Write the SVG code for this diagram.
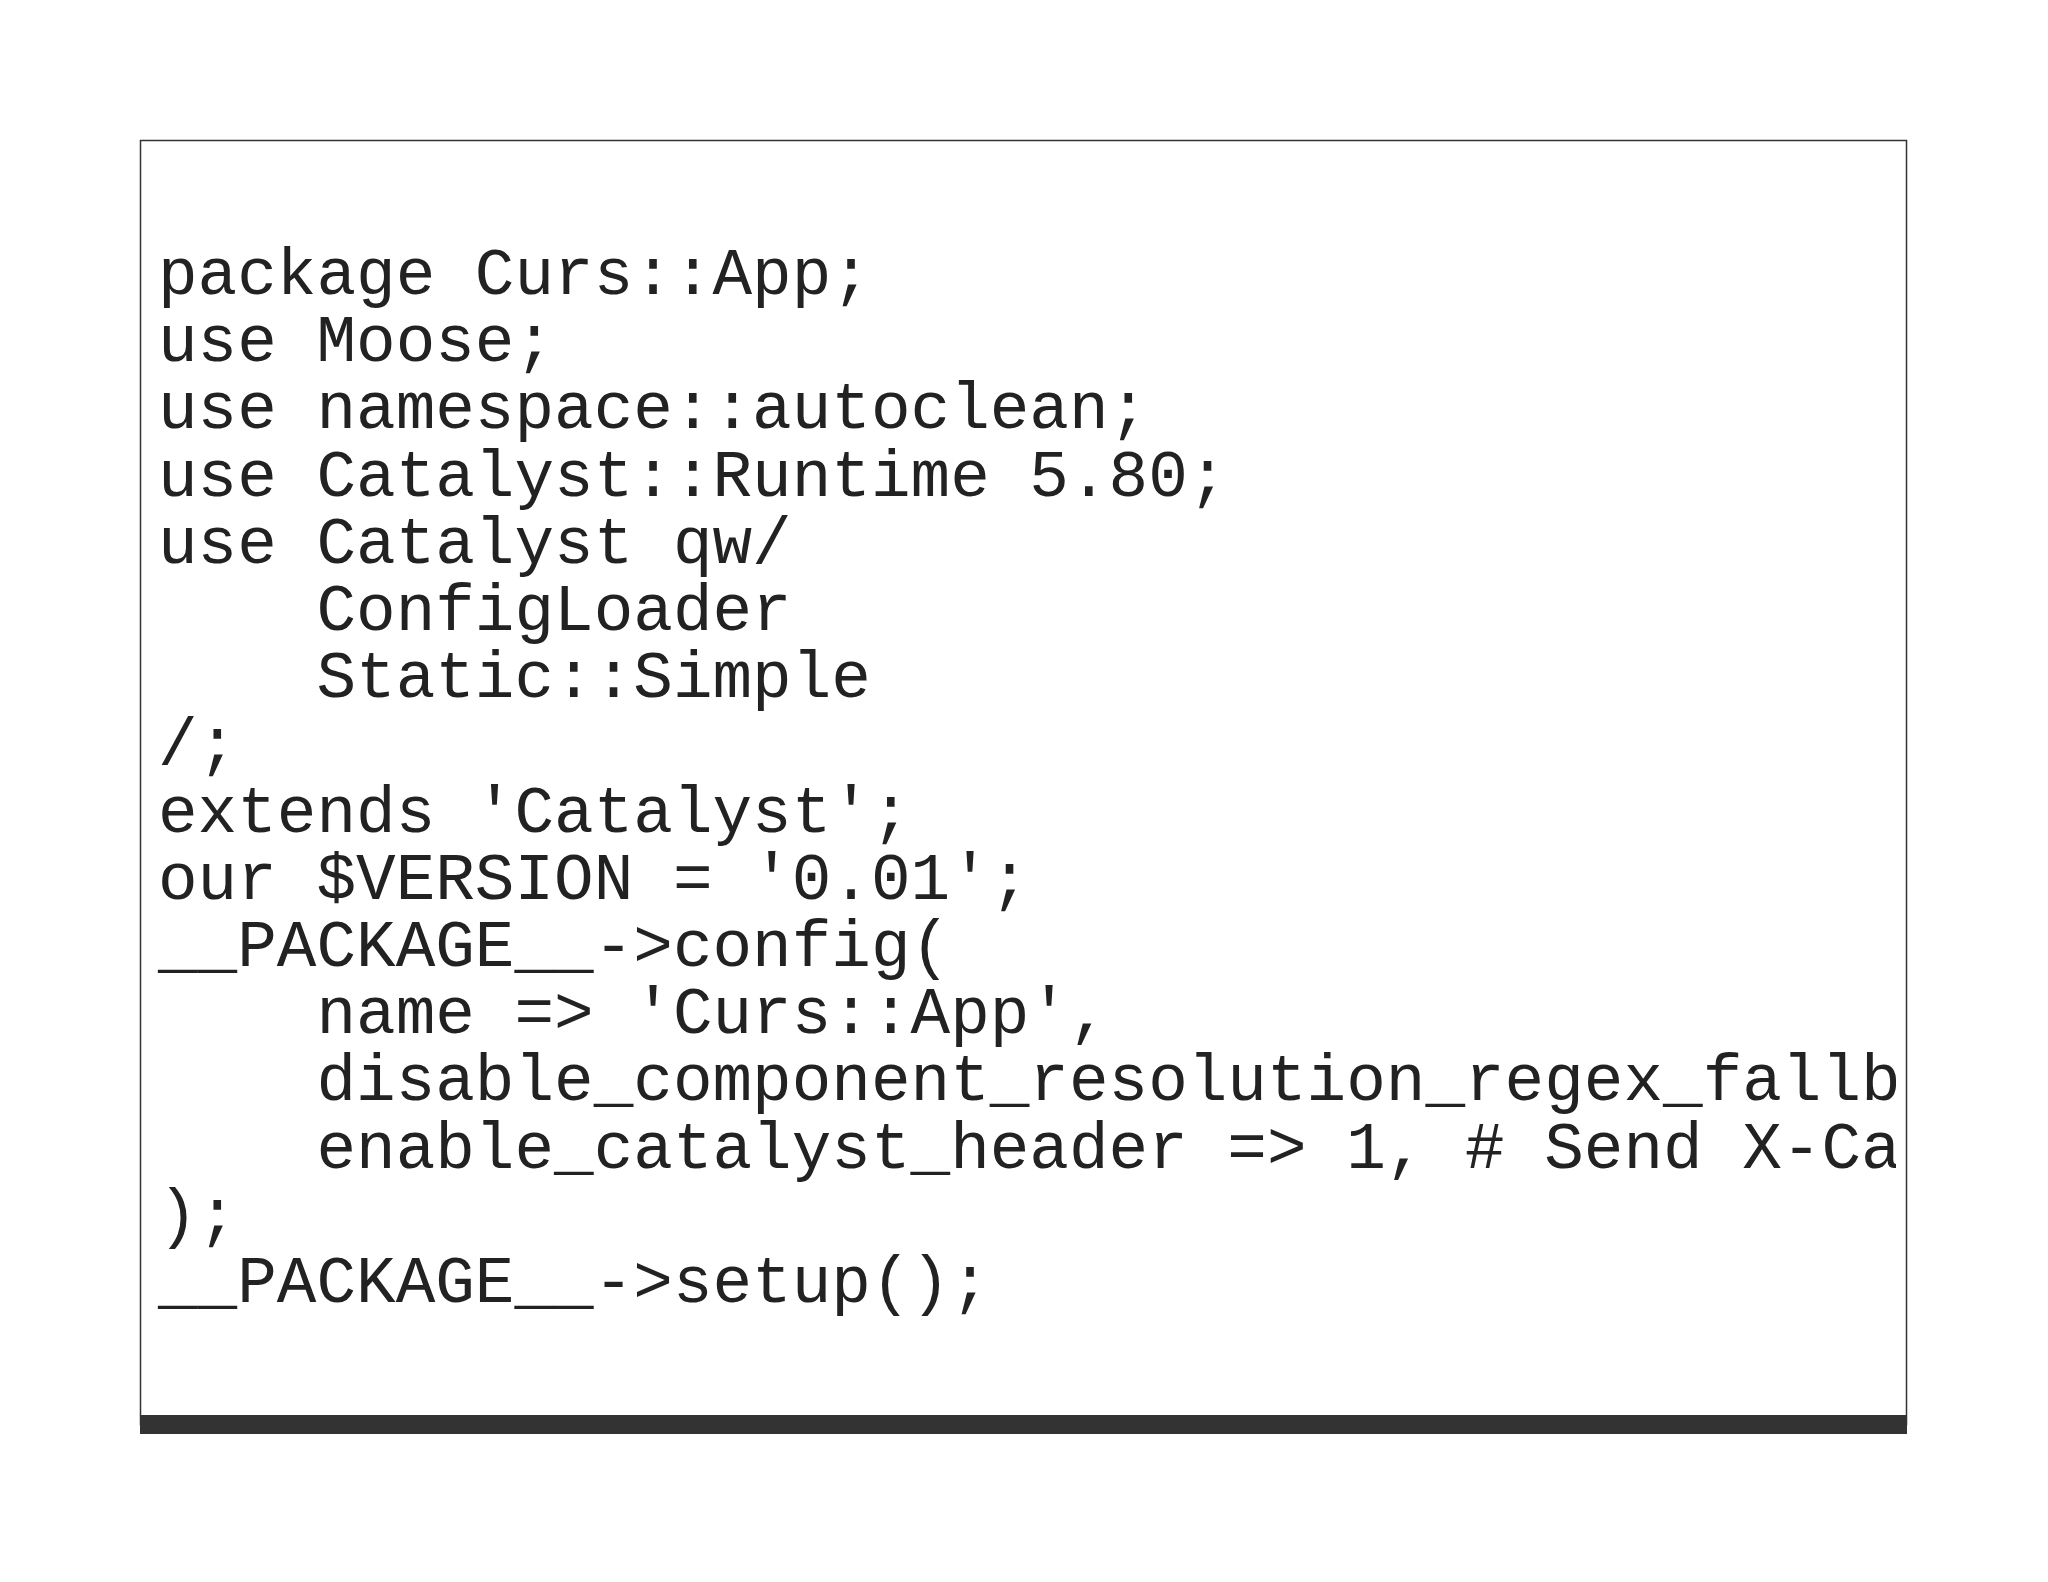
<svg xmlns="http://www.w3.org/2000/svg" width="2048" height="1582" viewBox="0 0 2048 1582">
<defs><clipPath id="c"><rect x="141" y="141" width="1755" height="1275"/></clipPath>
<style>.t{font-family:"Liberation Mono","Courier New",monospace;font-size:66px;fill:#222;white-space:pre}</style></defs>
<rect width="2048" height="1582" fill="#fff"/>
<g id="box"><rect x="140.5" y="140.5" width="1766" height="1284" fill="#fff" stroke="#333" stroke-width="1.5"/>
<rect x="140" y="1415" width="1767" height="19" fill="#333"/></g>
<g id="code" clip-path="url(#c)">
<text class="t" x="158" y="294">package Curs::App;</text>
<text class="t" x="158" y="361.2">use Moose;</text>
<text class="t" x="158" y="428.4">use namespace::autoclean;</text>
<text class="t" x="158" y="495.6">use Catalyst::Runtime 5.80;</text>
<text class="t" x="158" y="562.8">use Catalyst qw/</text>
<text class="t" x="158" y="630">    ConfigLoader</text>
<text class="t" x="158" y="697.2">    Static::Simple</text>
<text class="t" x="158" y="764.4">/;</text>
<text class="t" x="158" y="831.6">extends 'Catalyst';</text>
<text class="t" x="158" y="898.8">our $VERSION = '0.01';</text>
<text class="t" x="158" y="966">__PACKAGE__-&gt;config(</text>
<text class="t" x="158" y="1033.2">    name =&gt; 'Curs::App',</text>
<text class="t" x="158" y="1100.4">    disable_component_resolution_regex_fallback =&gt; 1,</text>
<text class="t" x="158" y="1167.6">    enable_catalyst_header =&gt; 1, # Send X-Catalyst header</text>
<text class="t" x="158" y="1234.8">);</text>
<text class="t" x="158" y="1302">__PACKAGE__-&gt;setup();</text>
</g>
</svg>
